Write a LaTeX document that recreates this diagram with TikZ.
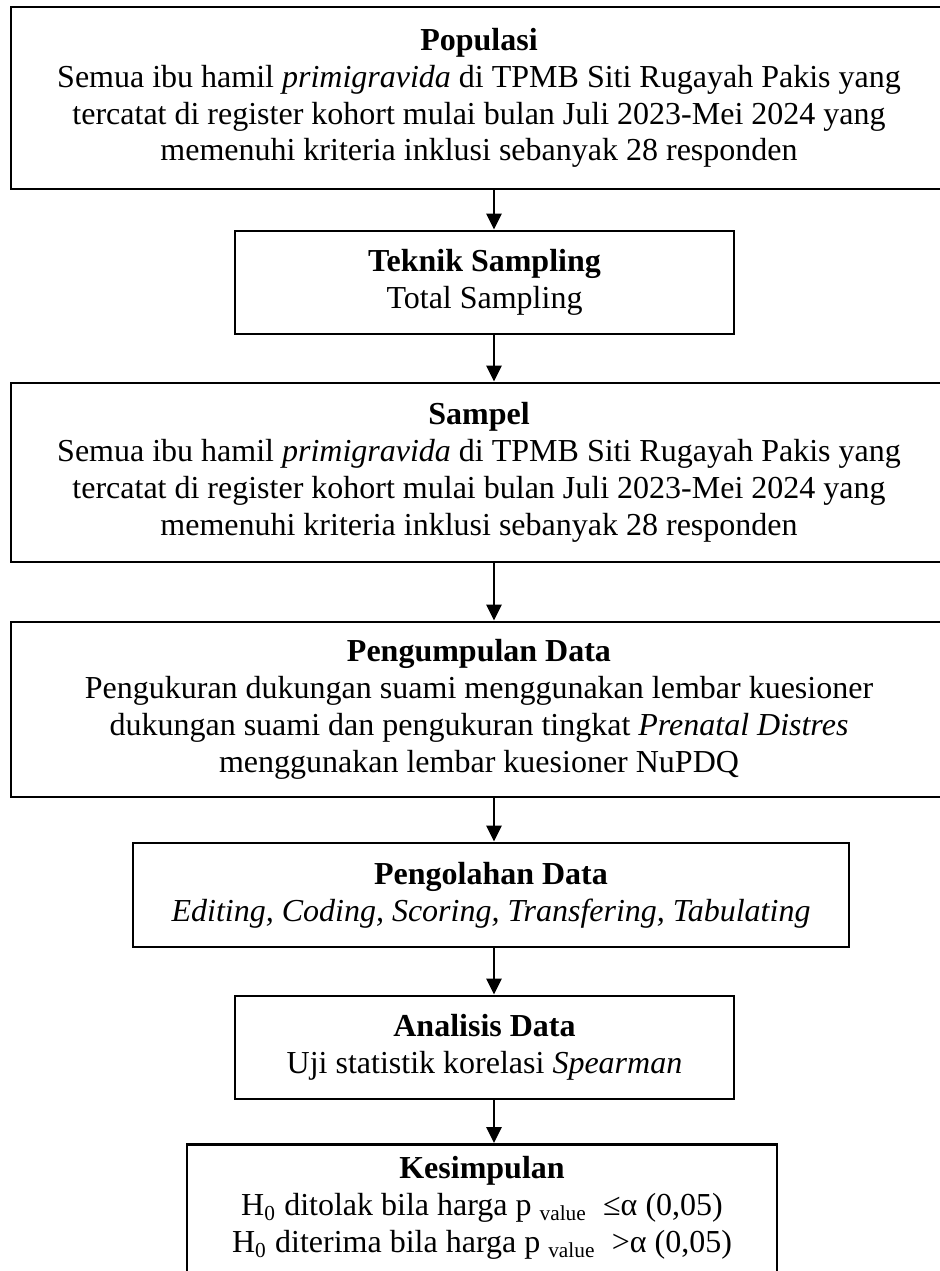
\documentclass[tikz,border=0pt]{standalone}
\usepackage{fontspec}
\setmainfont{Liberation Serif}
\usetikzlibrary{arrows.meta}

\begin{document}
\begin{tikzpicture}[x=0.375pt,y=-0.375pt,>={Triangle[width=5.6pt,length=6pt]},
    box/.style={draw,line width=1.1pt,align=center,inner sep=0pt,
        font=\fontsize{12}{13.8}\selectfont},
    flow/.style={->,line width=1.1pt}]
    \useasboundingbox (0,0) rectangle (939,1271);
    \coordinate (axis) at (494,0);
    \node[box,minimum width=351pt,minimum height=68.25pt] (pop) at (479,98)
        {\textbf{Populasi}\\
         Semua ibu hamil \textit{primigravida} di TPMB Siti Rugayah Pakis yang\\
         tercatat di register kohort mulai bulan Juli 2023-Mei 2024 yang\\
         memenuhi kriteria inklusi sebanyak 28 responden};
    \node[box,minimum width=187.125pt,minimum height=38.625pt] (tek) at (484.5,282.5)
        {\textbf{Teknik Sampling}\\ Total Sampling};
    \node[box,minimum width=351pt,minimum height=67.125pt] (sam) at (479,472.5)
        {\textbf{Sampel}\\
         Semua ibu hamil \textit{primigravida} di TPMB Siti Rugayah Pakis yang\\
         tercatat di register kohort mulai bulan Juli 2023-Mei 2024 yang\\
         memenuhi kriteria inklusi sebanyak 28 responden};
    \node[box,minimum width=351pt,minimum height=65.625pt] (kum) at (479,709.5)
        {\textbf{Pengumpulan Data}\\
         Pengukuran dukungan suami menggunakan lembar kuesioner\\
         dukungan suami dan pengukuran tingkat \textit{Prenatal Distres}\\
         menggunakan lembar kuesioner NuPDQ};
    \node[box,minimum width=268.5pt,minimum height=39pt] (olah) at (491,895)
        {\textbf{Pengolahan Data}\\
         \textit{Editing, Coding, Scoring, Transfering, Tabulating}};
    \node[box,minimum width=187.125pt,minimum height=38.625pt] (anl) at (484.5,1047.5)
        {\textbf{Analisis Data}\\ Uji statistik korelasi \textit{Spearman}};
    \node[box,anchor=north,minimum width=221.25pt,inner ysep=4.5pt,text depth=14pt] (kes) at (482,1143)
        {\textbf{Kesimpulan}\\
         H\textsubscript{0} ditolak bila harga p \textsubscript{value}\ \ ≤α (0,05)\\
         H\textsubscript{0} diterima bila harga p \textsubscript{value}\ \ >α (0,05)};
    % alur
    \draw[flow] (pop.south -| axis) -- (tek.north -| axis);
    \draw[flow] (tek.south -| axis) -- (sam.north -| axis);
    \draw[flow] (sam.south -| axis) -- (kum.north -| axis);
    \draw[flow] (kum.south -| axis) -- (olah.north -| axis);
    \draw[flow] (olah.south -| axis) -- (anl.north -| axis);
    \draw[flow] (anl.south -| axis) -- (kes.north -| axis);
\end{tikzpicture}
\end{document}
